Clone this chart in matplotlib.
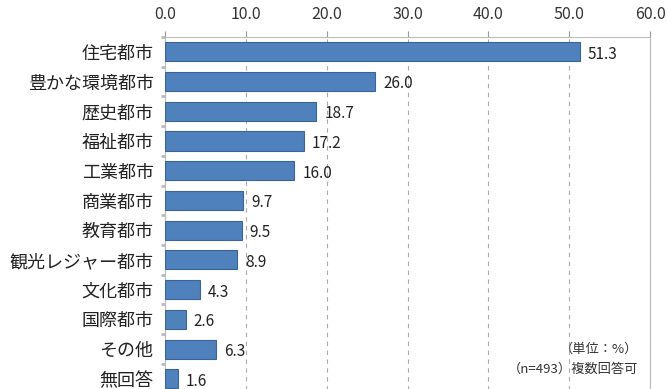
import matplotlib
matplotlib.use("Agg")
import matplotlib.pyplot as plt
import numpy as np

plt.rcParams['font.family'] = ['Noto Sans CJK JP', 'DejaVu Sans']

categories = ["住宅都市", "豊かな環境都市", "歴史都市", "福祉都市", "工業都市", "商業都市",
              "教育都市", "観光レジャー都市", "文化都市", "国際都市", "その他", "無回答"]
values = [51.3, 26.0, 18.7, 17.2, 16.0, 9.7, 9.5, 8.9, 4.3, 2.6, 6.3, 1.6]
xticks = [0, 10, 20, 30, 40, 50, 60]

fig = plt.figure(figsize=(6.67, 3.89), dpi=100)
ax = fig.add_axes([0.247, -0.012, 0.728, 0.917])

y = np.arange(len(categories))
ax.barh(y, values, height=0.64, color="#4F81BD", edgecolor="#3A6496", linewidth=0.8, zorder=3)
for yi, v in zip(y, values):
    ax.text(v + 1.0, yi + 0.08, f"{v:.1f}", va="center", ha="left", fontsize=11, color="#222222")

ax.set_xlim(0, 60)
ax.set_ylim(len(categories) - 0.5, -0.5)
ax.set_xticks(xticks)
ax.set_xticklabels([f"{t:.1f}" for t in xticks], fontsize=11.5, color="#333333")
ax.xaxis.tick_top()
ax.tick_params(axis="x", length=4, color="#999999", pad=6)
ax.set_yticks(y)
ax.set_yticklabels(categories, fontsize=13, color="#222222")
ax.tick_params(axis="y", length=0, pad=8)
ax.set_yticks(np.arange(len(categories) + 1) - 0.5, minor=True)
ax.tick_params(axis="y", which="minor", length=3, width=2, color="#bbbbbb")

ax.grid(axis="x", linestyle=(0, (4, 4)), color="#aaaaaa", linewidth=0.8, zorder=0)
for side in ["top", "left", "right", "bottom"]:
    ax.spines[side].set_color("#bbbbbb")
    ax.spines[side].set_linewidth(0.8)

fig.text(0.957, 0.103, "（単位：%）", ha="right", va="center", fontsize=9.5, color="#333333")
fig.text(0.957, 0.052, "（n=493）複数回答可", ha="right", va="center", fontsize=9.5, color="#333333")

fig.savefig("out.png", dpi=100)
